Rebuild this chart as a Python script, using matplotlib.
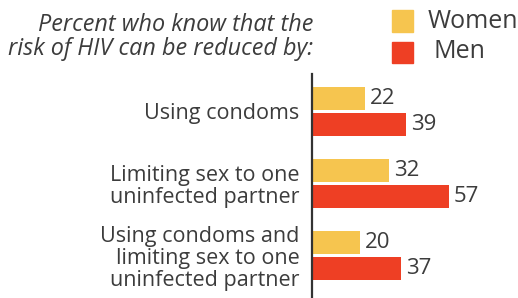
import matplotlib
matplotlib.use('Agg')
import matplotlib.pyplot as plt
import numpy as np

categories = ['Using condoms',
              'Limiting sex to one\nuninfected partner',
              'Using condoms and\nlimiting sex to one\nuninfected partner']
women = [22, 32, 20]
men = [39, 57, 37]

c_women = '#F6C54F'
c_men = '#EE3F24'
c_text = '#3C3C3C'

plt.rcParams['font.family'] = ['Open Sans', 'DejaVu Sans']

W, H = 518, 298
fig = plt.figure(figsize=(W / 100, H / 100), dpi=100)

# axes: left at x=312 px, top at y=74 px
ax = fig.add_axes([312 / W, 0, (W - 312) / W, (H - 74) / H])

y = np.arange(len(categories))
off = 0.18
bh = 0.32
ax.barh(y - off, women, height=bh, color=c_women)
ax.barh(y + off, men, height=bh, color=c_men)

for yi, w, m in zip(y, women, men):
    ax.text(w + 2.2, yi - off, str(w), va='center', ha='left', fontsize=16, color=c_text)
    ax.text(m + 2.2, yi + off, str(m), va='center', ha='left', fontsize=16, color=c_text)

ax.set_xlim(0, (W - 312) / 2.4)
ax.set_ylim(2.59, -0.52)
ax.set_yticks(y)
ax.set_yticklabels(categories, fontsize=15.5, color=c_text, linespacing=1.08)
ax.tick_params(axis='y', length=0, pad=9)
ax.set_xticks([])
for s in ['top', 'right', 'bottom']:
    ax.spines[s].set_visible(False)
ax.spines['left'].set_color('#333333')
ax.spines['left'].set_linewidth(1.6)

fig.text(313 / W, 1 - 55 / H, 'Percent who know that the\nrisk of HIV can be reduced by:',
         ha='right', va='baseline', fontsize=16.8, style='italic', color=c_text,
         linespacing=1.0)

# legend
fig.patches.append(plt.Rectangle((392 / W, 1 - 32 / H), 21 / W, 22 / H,
                                 transform=fig.transFigure, color=c_women))
fig.patches.append(plt.Rectangle((392 / W, 1 - 63 / H), 21 / W, 21 / H,
                                 transform=fig.transFigure, color=c_men))
fig.text(428 / W, 1 - 21 / H, 'Women', ha='left', va='center', fontsize=18, color=c_text)
fig.text(433 / W, 1 - 52 / H, 'Men', ha='left', va='center', fontsize=18, color=c_text)

fig.savefig('out.png', dpi=100, facecolor='white')
